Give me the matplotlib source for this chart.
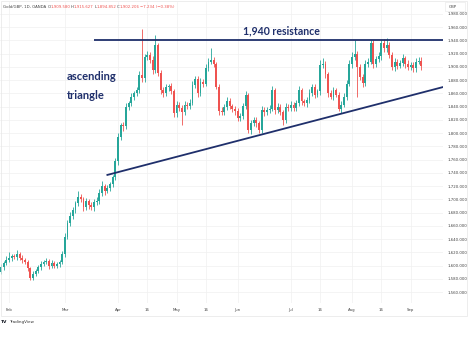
"""
Gold/GBP daily candles with an ascending triangle drawn on top
"""
import pandas as pd
import matplotlib
matplotlib.use("Agg")
from matplotlib import pyplot as plt
from matplotlib.patches import Rectangle


# daily closes, Jan 29 - Sep 6 2024
first_open = 1590
closes = [
    1598, 1604, 1609, 1612, 1614, 1613, 1617, 1612, 1608, 1605,
    1596, 1582, 1588, 1592, 1598, 1603, 1606, 1607, 1600, 1604,
    1600, 1602, 1605, 1618, 1644, 1665, 1675, 1684, 1694, 1703,
    1700, 1688, 1697, 1692, 1688, 1696, 1698, 1709, 1720, 1713,
    1717, 1723, 1734, 1758, 1795, 1812, 1811, 1840, 1845, 1855,
    1860, 1865, 1888, 1883, 1915, 1918, 1911, 1895, 1933, 1891,
    1865, 1860, 1869, 1871, 1863, 1830, 1843, 1838, 1832, 1843,
    1841, 1846, 1873, 1882, 1860, 1878, 1875, 1899, 1908, 1911,
    1905, 1870, 1834, 1832, 1840, 1849, 1841, 1837, 1833, 1823,
    1826, 1841, 1858, 1805, 1815, 1820, 1815, 1805, 1835, 1832,
    1835, 1837, 1865, 1835, 1840, 1832, 1820, 1840, 1838, 1843,
    1838, 1845, 1865, 1848, 1845, 1850, 1860, 1870, 1858, 1863,
    1903, 1905, 1890, 1860, 1855, 1865, 1858, 1836, 1843, 1855,
    1875, 1905, 1915, 1920, 1900, 1885, 1876, 1905, 1908, 1936,
    1905, 1912, 1916, 1936, 1928, 1933, 1918, 1900, 1908, 1902,
    1906, 1913, 1905, 1900, 1903, 1898, 1908, 1909.58, 1902.206,
]
upper_wick = [
    4, 3, 5, 8, 3, 4, 6, 3, 4, 3,
    3, 2, 4, 3, 3, 4, 3, 5, 3, 4,
    3, 4, 3, 4, 5, 4, 6, 5, 4, 9,
    5, 4, 5, 3, 4, 4, 5, 6, 8, 4,
    5, 4, 3, 4, 6, 4, 5, 6, 4, 5,
    4, 5, 6, 70, 5, 6, 4, 5, 15, 3,
    4, 5, 6, 4, 5, 3, 6, 4, 5, 5,
    4, 5, 6, 5, 4, 5, 4, 6, 5, 17,
    4, 3, 4, 5, 4, 5, 4, 3, 4, 5,
    4, 5, 6, 3, 5, 4, 5, 3, 6, 4,
    4, 5, 6, 3, 5, 4, 3, 6, 4, 5,
    4, 5, 6, 3, 4, 5, 6, 4, 5, 4,
    7, 8, 4, 3, 5, 4, 3, 4, 5, 6,
    5, 6, 7, 21, 4, 5, 4, 6, 5, 5,
    4, 5, 6, 4, 6, 10, 4, 5, 6, 4,
    5, 6, 4, 5, 4, 5, 6, 5, 6.05,
]
lower_wick = [
    3, 4, 3, 4, 5, 3, 4, 3, 4, 3,
    4, 4, 3, 4, 3, 4, 3, 4, 5, 4,
    4, 3, 4, 3, 5, 4, 5, 4, 5, 4,
    4, 5, 4, 6, 4, 5, 4, 5, 4, 6,
    4, 5, 4, 5, 6, 5, 7, 4, 5, 4,
    5, 4, 5, 6, 5, 4, 5, 6, 4, 5,
    6, 5, 4, 5, 4, 6, 5, 4, 20, 5,
    4, 5, 4, 5, 6, 4, 5, 4, 5, 4,
    5, 4, 6, 5, 4, 5, 4, 5, 6, 4,
    5, 4, 5, 4, 6, 4, 5, 4, 5, 6,
    4, 5, 4, 6, 5, 4, 8, 5, 4, 5,
    4, 5, 4, 5, 4, 6, 5, 4, 5, 4,
    5, 4, 6, 5, 4, 5, 4, 3, 5, 4,
    5, 4, 6, 5, 45, 5, 6, 4, 5, 4,
    6, 5, 4, 5, 6, 5, 4, 5, 6, 5,
    4, 5, 6, 5, 4, 6, 5, 4, 7.35,
]

tick_dates = ["2024-02-01", "2024-03-01", "2024-04-01", "2024-04-16", "2024-05-01",
              "2024-05-16", "2024-06-03", "2024-07-01", "2024-07-16", "2024-08-01",
              "2024-08-16", "2024-09-02"]
tick_labels = ["Feb", "Mar", "Apr", "16", "May", "16", "Jun", "Jul", "16", "Aug", "16", "Sep"]
price_ticks = list(range(1560, 2000, 20))

resistance = 1940
resistance_start = "2024-03-18"
support_a = ("2024-03-25", 1737)
support_b = ("2024-09-05", 1860)

GREEN = "#26a69a"
RED = "#ef5350"
NAVY = "#1f2f6b"

# trading days (no bar on Good Friday)
dates = pd.bdate_range("2024-01-29", "2024-09-06")
dates = dates[dates != pd.Timestamp("2024-03-29")]
pos = {d.strftime("%Y-%m-%d"): i for i, d in enumerate(dates)}

opens = [first_open] + closes[:-1]
idx = list(range(len(closes)))
highs = [max(o, c) + w for o, c, w in zip(opens, closes, upper_wick)]
lows = [min(o, c) - w for o, c, w in zip(opens, closes, lower_wick)]
colors = [GREEN if c >= o else RED for o, c in zip(opens, closes)]

W, H = 468, 360
fig = plt.figure(figsize=(W / 100, H / 100), dpi=100)
ax = fig.add_axes([0, 1 - 303 / H, 443 / W, 301 / H])

ax.vlines(idx, lows, highs, colors=colors, linewidth=0.6, zorder=2)
ax.bar(idx, [max(abs(c - o), 0.8) for o, c in zip(opens, closes)],
       bottom=[min(o, c) for o, c in zip(opens, closes)],
       width=0.7, color=colors, linewidth=0, zorder=3)

x_left, x_right = -0.38, 166.2
ax.set_xlim(x_left, x_right)
ax.set_ylim(1543.6, 1998.1)

# triangle lines
ax.hlines(resistance, pos[resistance_start], x_right, color=NAVY, linewidth=1.3, zorder=4)
ka, kb = pos[support_a[0]], pos[support_b[0]]
slope = (support_b[1] - support_a[1]) / (kb - ka)
ax.plot([ka, x_right], [support_a[1], support_a[1] + slope * (x_right - ka)],
        color=NAVY, linewidth=1.3, zorder=4)

# axes / grid
ax.set_xticks([pos[d] for d in tick_dates])
ax.set_xticklabels(tick_labels)
ax.set_yticks(price_ticks)
ax.set_yticklabels([f"{p:,.3f}" for p in price_ticks])
ax.yaxis.tick_right()
ax.tick_params(axis="both", length=0, labelsize=2.8, labelcolor="#444444")
ax.tick_params(axis="x", pad=3.5)
ax.tick_params(axis="y", pad=3)
ax.grid(True, color="#f0f0f0", linewidth=0.5, zorder=0)
for s in ax.spines.values():
    s.set_visible(False)

# annotations
ax.text(0.635, 0.905, "1,940 resistance", transform=ax.transAxes, ha="center", va="center",
        fontsize=7.6, fontweight="bold", color=NAVY, family=["Lato", "DejaVu Sans"])
ax.text(0.151, 0.752, "ascending", transform=ax.transAxes, ha="left", va="center",
        fontsize=8, fontweight="bold", color=NAVY, family=["Lato", "DejaVu Sans"])
ax.text(0.151, 0.689, "triangle", transform=ax.transAxes, ha="left", va="center",
        fontsize=8, fontweight="bold", color=NAVY, family=["Lato", "DejaVu Sans"])

# header line
hy = 1 - 6.5 / H
fig.text(3 / W, hy, "Gold/GBP, 1D, OANDA", fontsize=2.8, color="#444444", va="center")
for lx, letter, vx, val in [(48, "O", 50.5, "1,909.580"), (71, "H", 73.5, "1,915.627"),
                            (95, "L", 97, "1,894.852"), (117, "C", 119.5, "1,902.206")]:
    fig.text(lx / W, hy, letter, fontsize=2.8, color="#444444", va="center")
    fig.text(vx / W, hy, val, fontsize=2.8, color=RED, va="center")
fig.text(140 / W, hy, "\u22127.234 (\u22120.38%)", fontsize=2.8, color=RED, va="center")

# currency tag and frame
fig.text(449 / W, 1 - 6.5 / H, "GBP", fontsize=2.8, color="#444444", va="center")
fig.patches.append(Rectangle((445 / W, 1 - 11 / H), 20 / W, 9 / H, transform=fig.transFigure,
                             fill=False, edgecolor="#e6e6e6", linewidth=0.4))
fig.patches.append(Rectangle((0.5 / W, 1 - 316 / H), 466.5 / W, 315.5 / H, transform=fig.transFigure,
                             fill=False, edgecolor="#e6e6e6", linewidth=0.5))

# logo
fig.text(1 / W, 1 - 322 / H, "TV", fontsize=3.2, fontweight="bold", color="#131722", va="center")
fig.text(9 / W, 1 - 322 / H, "TradingView", fontsize=3, color="#333333", va="center")

fig.savefig("out.png", dpi=100)
